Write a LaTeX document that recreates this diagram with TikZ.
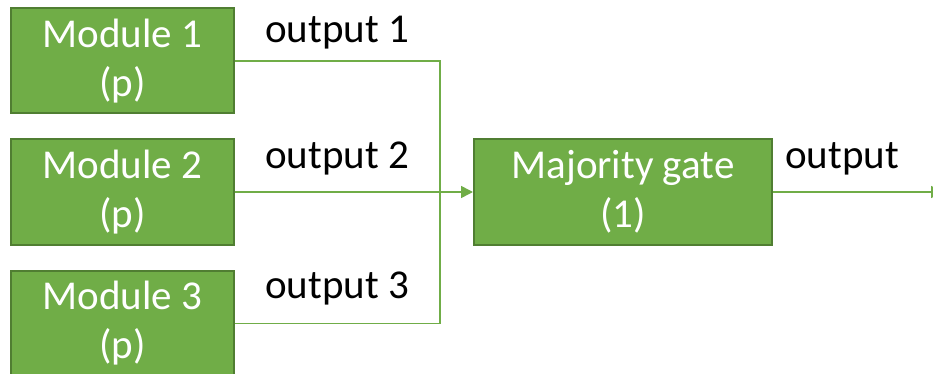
\documentclass[tikz,border=0pt]{standalone}
\usepackage{fontspec}
\setmainfont{Carlito}
\usetikzlibrary{arrows.meta}
\definecolor{boxfill}{HTML}{70AD47}
\definecolor{boxedge}{HTML}{507E32}
\begin{document}
\begin{tikzpicture}[x=1pt,y=-1pt,
  block/.style={draw=boxedge, line width=2pt, fill=boxfill, text=white,
    align=center, inner sep=0pt, minimum height=105pt,
    font=\fontsize{41}{49}\selectfont},
  wire/.style={draw=boxfill, line width=1.5pt},
  lbl/.style={anchor=base west, inner sep=0pt, font=\fontsize{41}{49}\selectfont},
  tip/.style={-{Triangle[length=12pt,width=12pt]}}]
\useasboundingbox (0,0) rectangle (933,374);

% three redundant modules
\node[block, minimum width=223pt] (m1) at (122.5,61) {Module 1\\(p)};
\node[block, minimum width=223pt] (m2) at (122.5,192) {Module 2\\(p)};
\node[block, minimum width=223pt] (m3) at (122.5,323.5) {Module 3\\(p)};

% voter
\node[block, minimum width=298pt] (mg) at (623,192) {Majority gate\\(1)};

% wiring
\coordinate (j) at (440,192);
\coordinate (out) at (943,192);
\draw[wire] (m1.east) -| (j);
\draw[wire] (m3.east) -| (j);
\draw[wire, tip] (m2.east) -- (mg.west);
\draw[wire, tip] (mg.east) -- (out);

% wire labels
\node[lbl] (l1) at (265,43) {output 1};
\node[lbl] (l2) at (265,168) {output 2};
\node[lbl] (l3) at (265,298) {output 3};
\node[lbl] (lo) at (785,168) {output};
\end{tikzpicture}
\end{document}
